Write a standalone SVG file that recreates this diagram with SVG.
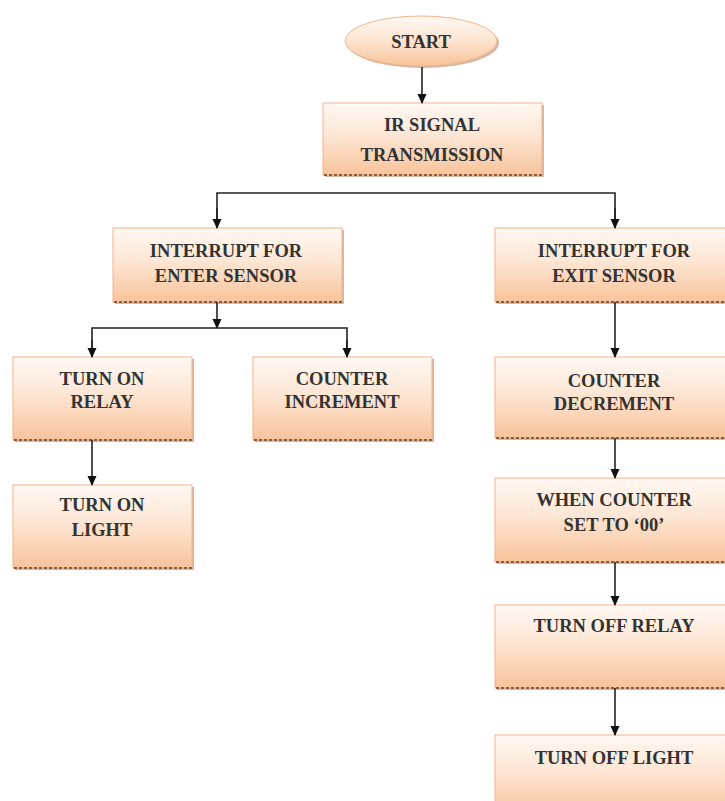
<svg xmlns="http://www.w3.org/2000/svg" width="725" height="801" viewBox="0 0 725 801">
<style>
.box{fill:url(#g);stroke:#f3b48a;stroke-width:1}
.sh{fill:#b08060;opacity:0.55}
.dash{stroke:#8a5a3a;stroke-width:2;stroke-dasharray:3 2;fill:none}
.t{font-family:"Liberation Serif","Times New Roman",serif;font-weight:bold;font-size:18.5px;fill:#333;text-anchor:middle}
.c{stroke:#222;stroke-width:1.6;fill:none}
</style>
<defs>
<linearGradient id="g" x1="0" y1="0" x2="0" y2="1">
<stop offset="0" stop-color="#fff8f3"/>
<stop offset="0.45" stop-color="#fde6d4"/>
<stop offset="1" stop-color="#f8c39a"/>
</linearGradient>
<marker id="a" markerWidth="10" markerHeight="10" refX="9" refY="5" orient="auto" markerUnits="userSpaceOnUse">
<path d="M0,0.5 L10,5 L0,9.5 Z" fill="#111"/>
</marker>
</defs>
<rect width="725" height="801" fill="#fff"/>

<g id="start">
<ellipse cx="423" cy="43" rx="76" ry="25" class="sh"/>
<ellipse cx="421" cy="41" rx="76" ry="25" class="box"/>
<text x="421" y="48" class="t">START</text>
</g>

<g id="ir">
<rect x="325" y="105" width="219" height="72" class="sh"/>
<rect x="323" y="103" width="219" height="72" class="box"/>
<line x1="324" y1="175" x2="542" y2="175" class="dash"/>
<text x="432" y="131" class="t">IR SIGNAL</text>
<text x="432" y="161" class="t">TRANSMISSION</text>
</g>

<g id="enter">
<rect x="115" y="230" width="229" height="74" class="sh"/>
<rect x="113" y="228" width="229" height="74" class="box"/>
<line x1="114" y1="302" x2="342" y2="302" class="dash"/>
<text x="226" y="257" class="t">INTERRUPT FOR</text>
<text x="226" y="282" class="t">ENTER SENSOR</text>
</g>

<g id="exit">
<rect x="497" y="230" width="240" height="74" class="sh"/>
<rect x="495" y="228" width="240" height="74" class="box"/>
<line x1="496" y1="302" x2="735" y2="302" class="dash"/>
<text x="614" y="257" class="t">INTERRUPT FOR</text>
<text x="614" y="282" class="t">EXIT SENSOR</text>
</g>

<g id="relayon">
<rect x="15" y="359" width="179" height="83" class="sh"/>
<rect x="13" y="357" width="179" height="83" class="box"/>
<line x1="14" y1="440" x2="192" y2="440" class="dash"/>
<text x="102" y="385" class="t">TURN ON</text>
<text x="102" y="408" class="t">RELAY</text>
</g>

<g id="increment">
<rect x="255" y="359" width="179" height="83" class="sh"/>
<rect x="253" y="357" width="179" height="83" class="box"/>
<line x1="254" y1="440" x2="432" y2="440" class="dash"/>
<text x="342" y="385" class="t">COUNTER</text>
<text x="342" y="408" class="t">INCREMENT</text>
</g>

<g id="decrement">
<rect x="497" y="359" width="240" height="81" class="sh"/>
<rect x="495" y="357" width="240" height="81" class="box"/>
<line x1="496" y1="438" x2="735" y2="438" class="dash"/>
<text x="614" y="387" class="t">COUNTER</text>
<text x="614" y="410" class="t">DECREMENT</text>
</g>

<g id="lighton">
<rect x="15" y="487" width="179" height="83" class="sh"/>
<rect x="13" y="485" width="179" height="83" class="box"/>
<line x1="14" y1="568" x2="192" y2="568" class="dash"/>
<text x="102" y="511" class="t">TURN ON</text>
<text x="102" y="536" class="t">LIGHT</text>
</g>

<g id="whenzero">
<rect x="497" y="480" width="240" height="84" class="sh"/>
<rect x="495" y="478" width="240" height="84" class="box"/>
<line x1="496" y1="562" x2="735" y2="562" class="dash"/>
<text x="614" y="506" class="t">WHEN COUNTER</text>
<text x="614" y="531" class="t">SET TO ‘00’</text>
</g>

<g id="relayoff">
<rect x="497" y="607" width="240" height="83" class="sh"/>
<rect x="495" y="605" width="240" height="83" class="box"/>
<line x1="496" y1="688" x2="735" y2="688" class="dash"/>
<text x="614" y="632" class="t">TURN OFF RELAY</text>
</g>

<g id="lightoff">
<rect x="497" y="737" width="240" height="80" class="sh"/>
<rect x="495" y="735" width="240" height="80" class="box"/>
<text x="614" y="764" class="t">TURN OFF LIGHT</text>
</g>

<g id="connectors">
<line x1="422" y1="67" x2="422" y2="103" class="c" marker-end="url(#a)"/>
<polyline points="217,228 217,193 615,193 615,228" class="c"/>
<line x1="217" y1="208" x2="217" y2="228" class="c" marker-end="url(#a)"/>
<line x1="615" y1="208" x2="615" y2="228" class="c" marker-end="url(#a)"/>
<line x1="217" y1="302" x2="217" y2="328" class="c" marker-end="url(#a)"/>
<polyline points="92,357 92,328 347,328 347,357" class="c"/>
<line x1="92" y1="340" x2="92" y2="357" class="c" marker-end="url(#a)"/>
<line x1="347" y1="340" x2="347" y2="357" class="c" marker-end="url(#a)"/>
<line x1="92" y1="440" x2="92" y2="485" class="c" marker-end="url(#a)"/>
<line x1="615" y1="302" x2="615" y2="357" class="c" marker-end="url(#a)"/>
<line x1="615" y1="438" x2="615" y2="478" class="c" marker-end="url(#a)"/>
<line x1="615" y1="562" x2="615" y2="605" class="c" marker-end="url(#a)"/>
<line x1="615" y1="688" x2="615" y2="735" class="c" marker-end="url(#a)"/>
</g>
</svg>
